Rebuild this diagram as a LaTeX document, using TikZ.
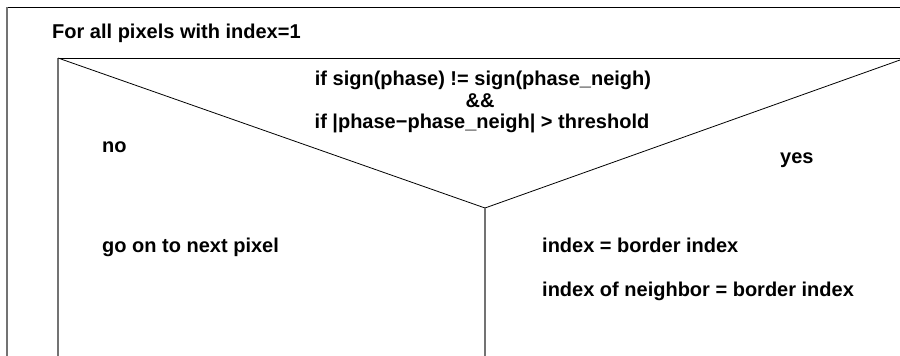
\documentclass[tikz,border=0pt]{standalone}
\usepackage{fontspec}
\setmainfont{Liberation Sans}
\begin{document}
\begin{tikzpicture}[x=1pt,y=-1pt,
  txt/.style={anchor=base west,inner sep=0pt,font=\fontsize{20}{23}\selectfont\bfseries},
  ctxt/.style={anchor=base,inner sep=0pt,font=\fontsize{20}{23}\selectfont\bfseries},
  blk/.style={draw=black,line width=1pt},
  gry/.style={draw=black!55,line width=1.2pt},
  thin/.style={draw=black,line width=0.8pt}]
\useasboundingbox (0,0) rectangle (900,356);
\coordinate (otl) at (7,7);
\coordinate (otr) at (900,7);
\coordinate (obl) at (7,356);
\coordinate (itl) at (58,58);
\coordinate (itr) at (900,58);
\coordinate (ibl) at (58,356);
\coordinate (v) at (485,208);
\coordinate (rr) at (900,60);
\coordinate (vb) at (485,356);
\draw[blk] (otl) -- (otr);
\draw[gry] (otl) -- (obl);
\draw[blk] (itl) -- (itr);
\draw[gry] (itl) -- (ibl);
\draw[thin] (itl) -- (v) -- (rr);
\draw[gry] (v) -- (vb);
\node[txt] (title) at (52,38) {For all pixels with index=1};
\node[ctxt] (c1) at (483,85) {if sign(phase) != sign(phase\_neigh)};
\node[ctxt] (c2) at (480,107) {\&\&};
\node[ctxt] (c3) at (482,128) {if |phase−phase\_neigh| > threshold};
\node[txt] (no) at (102,152) {no};
\node[txt] (yes) at (780,163) {yes};
\node[txt] (go) at (102,252) {go on to next pixel};
\node[txt] (i1) at (542,252) {index = border index};
\node[txt] (i2) at (542,296) {index of neighbor = border index};
\end{tikzpicture}
\end{document}
